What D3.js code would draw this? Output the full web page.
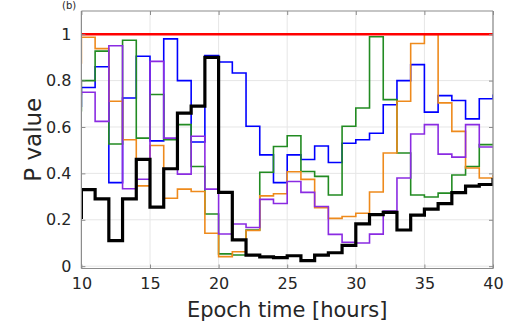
<!DOCTYPE html>
<html>
<head>
<meta charset="utf-8">
<script src="https://cdn.jsdelivr.net/npm/d3@7/dist/d3.min.js"></script>
<style>
body { margin: 0; background: #fff; }
text { font-family: "DejaVu Sans", sans-serif; fill: #262626; }
</style>
</head>
<body>
<div id="chart"></div>
<script>
// hourly epochs, first and last are partly outside the x limits
const hours = [9, 10, 11, 12, 13, 14, 15, 16, 17, 18, 19, 20, 21, 22, 23, 24, 25,
    26, 27, 28, 29, 30, 31, 32, 33, 34, 35, 36, 37, 38, 39, 40]

const blackP = [0.21, 0.33, 0.29, 0.11, 0.29, 0.46, 0.255, 0.42, 0.66, 0.69, 0.90, 0.318,
    0.113, 0.048, 0.04, 0.037, 0.045, 0.024, 0.048, 0.058, 0.09, 0.182, 0.222, 0.232,
    0.156, 0.22, 0.246, 0.27, 0.317, 0.345, 0.352, 0.38]
const blueP = [0.69, 0.77, 0.86, 0.36, 0.725, 0.905, 0.54, 0.98, 0.80, 0.535, 0.908, 0.88,
    0.833, 0.603, 0.48, 0.36, 0.48, 0.46, 0.518, 0.447, 0.53, 0.545, 0.573, 0.696,
    0.80, 0.869, 0.664, 0.735, 0.714, 0.635, 0.722, 0.74]
const greenP = [0.67, 0.80, 0.927, 0.527, 0.974, 0.552, 0.74, 0.545, 0.61, 0.43, 0.225, 0.053,
    0.048, 0.156, 0.405, 0.516, 0.562, 0.408, 0.387, 0.307, 0.603, 0.682, 0.989, 0.718,
    0.488, 0.307, 0.298, 0.315, 0.393, 0.43, 0.524, 0.524]
const orangeP = [0.876, 0.987, 0.938, 0.711, 0.545, 0.346, 0.52, 0.293, 0.332, 0.322, 0.142, 0.041,
    0.062, 0.154, 0.303, 0.312, 0.407, 0.374, 0.252, 0.206, 0.214, 0.228, 0.32, 0.488,
    0.711, 0.96, 0.999, 0.704, 0.581, 0.423, 0.38, 0.393]
const purpleP = [0.74, 0.75, 0.624, 0.95, 0.334, 0.375, 0.883, 0.552, 0.397, 0.56, 0.332, 0.139,
    0.182, 0.167, 0.288, 0.27, 0.365, 0.318, 0.257, 0.137, 0.103, 0.10, 0.138, 0.238,
    0.38, 0.57, 0.61, 0.483, 0.47, 0.61, 0.514, 0.514]
const threshold = 1

const xTicks = [10, 15, 20, 25, 30, 35, 40]
const yTicks = [0, 0.2, 0.4, 0.6, 0.8, 1]
const yTickLabels = ["0", "0.2", "0.4", "0.6", "0.8", "1"]

const width = 511,
    height = 324
const margin = { left: 81.4, right: 18, top: 11, bottom: 55.5 }
const plotW = width - margin.left - margin.right,
    plotH = height - margin.top - margin.bottom

const svg = d3.select("#chart").append("svg")
    .attr("width", width)
    .attr("height", height)

const x = d3.scaleLinear().domain([10, 40]).range([0, plotW])
const y = d3.scaleLinear().domain([-0.01, 1.1]).range([plotH, 0])

// panel label (mostly cropped away in the source figure)
svg.append("text")
    .attr("x", 62)
    .attr("y", 9)
    .style("font-size", "10px")
    .text("(b)")

const g = svg.append("g")
    .attr("transform", "translate(" + margin.left + "," + margin.top + ")")

g.append("clipPath").attr("id", "clip")
    .append("rect").attr("width", plotW).attr("height", plotH)

// grid
g.selectAll(".gx").data(xTicks).enter().append("line")
    .attr("x1", d => x(d)).attr("x2", d => x(d))
    .attr("y1", 0).attr("y2", plotH)
    .attr("stroke", "#e6e6e6")
g.selectAll(".gy").data(yTicks).enter().append("line")
    .attr("y1", d => y(d)).attr("y2", d => y(d))
    .attr("x1", 0).attr("x2", plotW)
    .attr("stroke", "#e6e6e6")

const series = [
    { values: blueP, color: "#0000ff", w: 1.6 },
    { values: greenP, color: "#228b22", w: 1.6 },
    { values: orangeP, color: "#ee8a1c", w: 1.6 },
    { values: purpleP, color: "#8a2be2", w: 1.6 },
    { values: blackP, color: "#000000", w: 3.2 }
]

const line = d3.line()
    .x(d => x(d[0]))
    .y(d => y(d[1]))
    .curve(d3.curveStepAfter)

const lines = g.append("g").attr("clip-path", "url(#clip)")

series.forEach(s => {
    lines.append("path")
        .datum(hours.map((h, i) => [h, s.values[i]]))
        .attr("d", line)
        .attr("fill", "none")
        .attr("stroke", s.color)
        .attr("stroke-width", s.w)
        .attr("stroke-linejoin", "miter")
})

lines.append("line")
    .attr("x1", 0).attr("x2", plotW)
    .attr("y1", y(threshold)).attr("y2", y(threshold))
    .attr("stroke", "#ff0000")
    .attr("stroke-width", 2.6)

// box axes with inward ticks, matlab style
const axisColor = "#8c8c8c"
const xAxis = g.append("g")
    .attr("transform", "translate(0," + plotH + ")")
    .call(d3.axisBottom(x).tickValues(xTicks).tickSize(-4).tickPadding(9))
const xTop = g.append("g")
    .call(d3.axisTop(x).tickValues(xTicks).tickSize(-4).tickFormat(""))
const yAxis = g.append("g")
    .call(d3.axisLeft(y).tickValues(yTicks).tickSize(-4).tickPadding(10)
        .tickFormat((d, i) => yTickLabels[i]))
const yRight = g.append("g")
    .attr("transform", "translate(" + plotW + ",0)")
    .call(d3.axisRight(y).tickValues(yTicks).tickSize(-4).tickFormat(""))

;[xAxis, xTop, yAxis, yRight].forEach(a => {
    a.select(".domain").attr("stroke", axisColor).attr("stroke-width", 1.2)
    a.selectAll(".tick line").attr("stroke", axisColor)
    a.selectAll("text").style("font-size", "16px").attr("fill", "#262626")
})
// draw full domain lines (no outer tick stubs)
xAxis.select(".domain").attr("d", "M0,0H" + plotW)
xTop.select(".domain").attr("d", "M0,0H" + plotW)
yAxis.select(".domain").attr("d", "M0," + plotH + "V" + y(1.1))
yRight.select(".domain").attr("d", "M0," + plotH + "V" + y(1.1))

svg.append("text")
    .attr("x", margin.left + plotW / 2)
    .attr("y", 317)
    .attr("text-anchor", "middle")
    .style("font-size", "21px")
    .text("Epoch time [hours]")

svg.append("text")
    .attr("transform", "translate(41," + (margin.top + plotH / 2) + ") rotate(-90)")
    .attr("text-anchor", "middle")
    .style("font-size", "23px")
    .text("P value")
</script>
</body>
</html>
